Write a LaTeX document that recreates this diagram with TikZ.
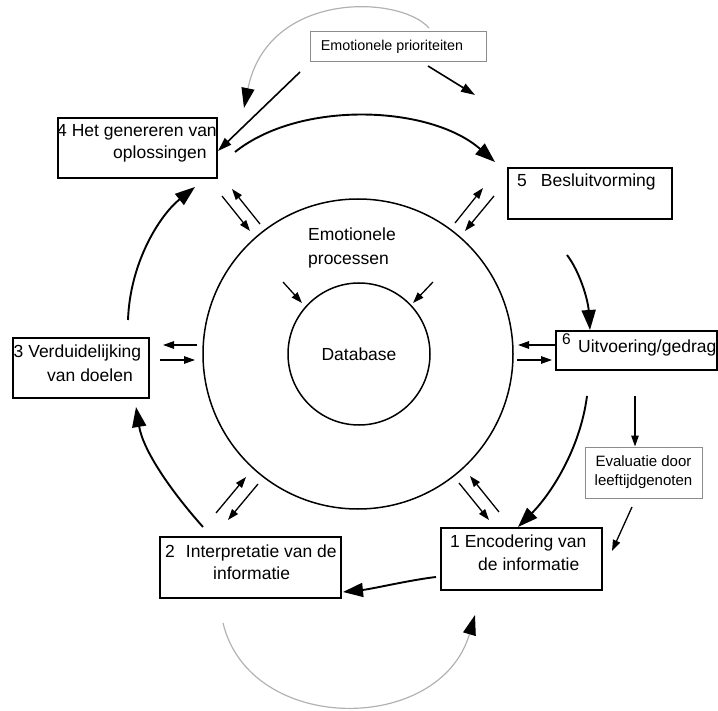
\documentclass[tikz,border=0pt]{standalone}
\usepackage{fontspec}
\setmainfont{Liberation Sans}
\usetikzlibrary{arrows.meta}
\begin{document}
\begin{tikzpicture}[x=1pt,y=-1pt,
  stepbox/.style={draw, line width=1.3pt, inner sep=0pt},
  greybox/.style={draw=black!45, line width=1pt, inner sep=0pt},
  lbl/.style={anchor=base west, inner sep=0pt, font=\fontsize{17.5}{21}\selectfont},
  ring/.style={circle, draw, line width=1.5pt, inner sep=0pt},
  mainarrow/.style={line width=1.9pt, -{Triangle[length=20pt,width=14pt]}},
  smallarrow/.style={line width=1.3pt, -{Triangle[length=11pt,width=7.5pt]}},
  greyarrow/.style={line width=1.2pt, draw=black!30, -{Triangle[length=20pt,width=13pt,color=black]}}]
\useasboundingbox (0,0) rectangle (718,711);

% circles
\node[ring, minimum size=310pt] (outer) at (358,354) {};
\node[ring, minimum size=142pt, font=\fontsize{17.5}{21}\selectfont] (db) at (359,354) {Database};
\node[lbl] (ep1) at (308,241) {Emotionele};
\node[lbl] (ep2) at (308,265) {processen};

% boxes
\node[stepbox, minimum width=159pt, minimum height=60pt] (n4) at (137.5,148) {};
\node[stepbox, minimum width=164pt, minimum height=51pt] (n5) at (590,193.5) {};
\node[stepbox, minimum width=161pt, minimum height=39pt] (n6) at (636.5,350.5) {};
\node[stepbox, minimum width=136pt, minimum height=60pt] (n3) at (81,368) {};
\node[stepbox, minimum width=181pt, minimum height=61pt] (n2) at (250.5,567.5) {};
\node[stepbox, minimum width=161pt, minimum height=62pt] (n1) at (521.5,559) {};
\node[greybox, minimum width=117pt, minimum height=51pt, align=center,
      font=\fontsize{15}{19}\selectfont] (eval) at (643.5,472.5) {Evaluatie door\\leeftijdgenoten};
\node[greybox, minimum width=176pt, minimum height=30pt,
      font=\fontsize{14.3}{17}\selectfont] (prio) at (398,47) {Emotionele prioriteiten\hspace*{12pt}};

% box texts
\node[lbl] (t4a) at (57,137) {4 Het genereren van};
\node[lbl] (t4b) at (113,159) {oplossingen};
\node[lbl] (t5) at (517,187) {5\hspace{14pt}Besluitvorming};
\node[lbl, font=\fontsize{15.5}{19}\selectfont] (t6a) at (562,345) {6};
\node[lbl] (t6b) at (578,353) {Uitvoering/gedrag};
\node[lbl] (t3a) at (13.5,358) {3 Verduidelijking};
\node[lbl] (t3b) at (47,382) {van doelen};
\node[lbl] (t2a) at (165,557) {2\hspace{11pt}Interpretatie van de};
\node[lbl] (t2b) at (213,579) {informatie};
\node[lbl] (t1a) at (450,547) {1 Encodering van};
\node[lbl] (t1b) at (478,570) {de informatie};

% main cycle coordinates
\coordinate (a4s) at (235,152);  \coordinate (a5e) at (495,162);
\coordinate (a5s) at (567,255);  \coordinate (a6e) at (590,330);
\coordinate (a6s) at (587,396);  \coordinate (a1e) at (518,527);
\coordinate (a1s) at (436,577);  \coordinate (a2e) at (343,592);
\coordinate (a2s) at (203,527);  \coordinate (a3e) at (136,407);
\coordinate (a3s) at (128,320);  \coordinate (a4e) at (195,187);

\draw[mainarrow] (a4s) .. controls (300,100) and (430,105) .. (a5e);
\draw[mainarrow] (a5s) .. controls (580,272) and (588,300) .. (a6e);
\draw[mainarrow] (a6s) .. controls (580,450) and (550,495) .. (a1e);
\draw[mainarrow] (a1s) .. controls (410,580) and (372,589) .. (a2e);
\draw[mainarrow] (a2s) .. controls (170,490) and (143,450) .. (a3e);
\draw[mainarrow] (a3s) .. controls (130,262) and (160,215) .. (a4e);

% small exchange arrows
\coordinate (p4a) at (222,196); \coordinate (q4a) at (250,231);
\coordinate (p4b) at (260,224); \coordinate (q4b) at (232,189);
\coordinate (p5a) at (455,223); \coordinate (q5a) at (483,188);
\coordinate (p5b) at (494,196); \coordinate (q5b) at (465,231);
\coordinate (p6a) at (555,345); \coordinate (q6a) at (518,345);
\coordinate (p6b) at (517,360); \coordinate (q6b) at (552,360);
\coordinate (p3a) at (197,345); \coordinate (q3a) at (163,345);
\coordinate (p3b) at (160,360); \coordinate (q3b) at (195,360);
\coordinate (p2a) at (216,513); \coordinate (q2a) at (246,477);
\coordinate (p2b) at (258,484); \coordinate (q2b) at (228,520);
\coordinate (p1a) at (459,483); \coordinate (q1a) at (489,520);
\coordinate (p1b) at (499,512); \coordinate (q1b) at (470,476);
\coordinate (pia) at (283,282); \coordinate (qia) at (302,303);
\coordinate (pib) at (433,282); \coordinate (qib) at (413,303);
\foreach \k in {4a,4b,5a,5b,6a,6b,3a,3b,2a,2b,1a,1b,ia,ib}
  \draw[smallarrow] (p\k) -- (q\k);

% emotional priorities
\coordinate (g1s) at (429,28); \coordinate (g1e) at (244,108);
\draw[greyarrow] (g1s) .. controls (400,-5) and (268,-10) .. (g1e);
\coordinate (pr1) at (300,72); \coordinate (pr1e) at (218,151);
\coordinate (pr2) at (428,66); \coordinate (pr2e) at (475,95);
\draw[smallarrow, line width=1.6pt, -{Triangle[length=14pt,width=9pt]}] (pr1) -- (pr1e);
\draw[smallarrow, line width=1.6pt, -{Triangle[length=14pt,width=9pt]}] (pr2) -- (pr2e);

% evaluation
\coordinate (ev1) at (635,396);
\coordinate (ev2) at (632,507); \coordinate (ev2e) at (612,551);
\draw[smallarrow] (ev1) -- (eval.north -| ev1);
\draw[smallarrow] (ev2) -- (ev2e);

% bottom grey arc
\coordinate (g2s) at (223,623); \coordinate (g2e) at (475,615);
\draw[greyarrow] (g2s) .. controls (250,735) and (440,735) .. (g2e);
\end{tikzpicture}
\end{document}
